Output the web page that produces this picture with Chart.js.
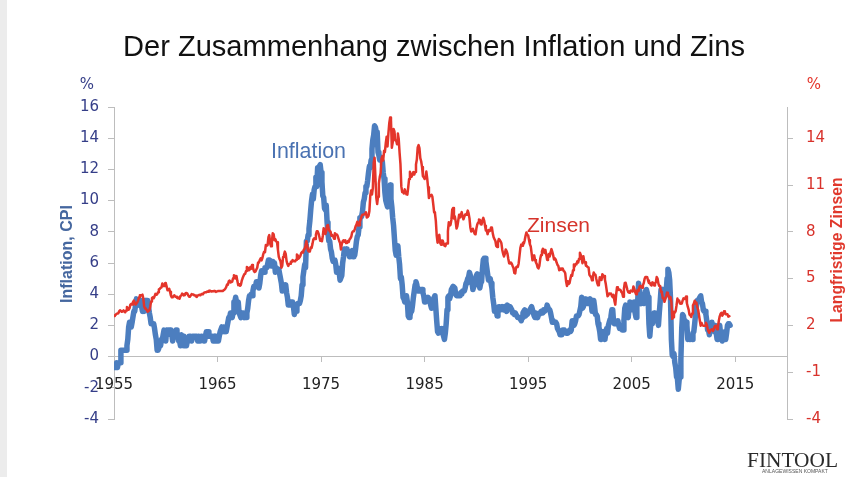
<!DOCTYPE html>
<html><head><meta charset="utf-8">
<script src="https://cdn.jsdelivr.net/npm/chart.js@4.4.1/dist/chart.umd.min.js"></script>
<style>html,body{margin:0;padding:0;background:#fff;overflow:hidden}#wrap{position:relative;width:854px;height:477px}</style>
</head><body><div id="wrap"><canvas id="c" width="854" height="477"></canvas></div>
<script>
// Monthly series starting January 1955
const startYear = 1955;
const inflation = [
-0.7,-0.7,-0.7,-0.4,-0.7,-0.4,-0.4,-0.4,0.4,0.4,0.4,0.4,
0.4,0.4,0.4,0.7,1.1,1.9,2.2,1.9,1.9,2.2,2.2,2.9,
2.9,3.3,3.7,3.6,3.6,3.3,3.3,3.6,3.2,2.9,3.2,2.9,
3.6,3.2,3.6,3.6,3.2,2.8,2.5,2.1,2.1,2.1,2.1,1.8,
1.4,1.1,0.4,0.4,0.4,0.7,0.7,1.1,1.1,1.4,1.7,1.7,
1.0,1.7,1.4,1.7,1.7,1.7,1.4,1.4,1.0,1.4,1.4,1.4,
1.7,1.4,1.4,1.0,1.0,0.7,1.4,1.0,1.3,0.7,0.7,0.7,
0.7,1.0,1.0,1.3,1.3,1.3,1.0,1.3,1.3,1.3,1.3,1.3,
1.3,1.0,1.3,1.0,1.0,1.3,1.3,1.3,1.0,1.0,1.3,1.6,
1.6,1.6,1.3,1.3,1.3,1.3,1.3,1.0,1.3,1.0,1.3,1.0,
1.0,1.0,1.3,1.6,1.6,1.9,1.6,1.9,1.6,1.9,1.6,1.9,
1.9,2.5,2.5,2.8,2.8,2.5,2.8,3.5,3.5,3.8,3.5,3.5,
3.5,2.8,2.8,2.5,2.8,2.8,2.8,2.5,2.8,2.5,2.8,3.1,
3.6,3.9,3.9,4.0,3.9,4.2,4.5,4.5,4.5,4.8,4.8,4.7,
4.4,4.7,5.2,5.5,5.5,5.5,5.4,5.7,5.7,5.7,5.9,6.2,
6.2,6.1,5.8,6.1,6.1,6.0,6.0,5.4,5.7,5.6,5.6,5.6,
5.3,5.0,4.7,4.2,4.4,4.6,4.4,4.6,4.1,3.8,3.3,3.3,
3.3,3.5,3.5,3.5,3.2,2.7,2.9,2.9,3.2,3.4,3.4,3.4,
3.6,3.9,4.6,5.1,5.5,5.9,5.7,7.4,7.4,7.8,8.2,8.7,
9.4,10.0,10.4,10.1,10.7,10.9,11.5,10.9,12.1,12.0,12.2,12.3,
11.8,11.2,10.3,10.2,9.5,9.4,9.7,8.6,7.9,7.4,7.4,6.9,
6.7,6.3,6.1,6.1,6.2,5.9,5.4,5.7,5.4,5.4,4.9,4.9,
5.2,6.0,6.4,6.9,6.7,6.9,6.8,6.6,6.6,6.4,6.7,6.7,
6.8,6.4,6.6,6.5,6.9,7.4,7.7,7.8,8.3,8.9,8.9,9.0,
9.3,9.9,10.1,10.5,10.9,10.9,11.3,11.8,12.2,12.1,12.6,13.3,
13.9,14.2,14.8,14.7,14.4,14.4,13.1,12.9,12.6,12.8,12.6,12.5,
11.8,11.4,10.5,10.0,9.8,9.6,10.8,10.8,11.0,10.1,9.6,8.9,
8.4,7.6,6.8,6.5,6.7,7.1,6.4,5.9,5.0,5.1,4.6,3.8,
3.7,3.5,3.6,3.9,3.5,2.6,2.5,2.6,2.9,2.9,3.3,3.8,
4.2,4.6,4.8,4.6,4.2,4.2,4.2,4.3,4.3,4.3,4.1,3.9,
3.5,3.5,3.7,3.7,3.8,3.8,3.6,3.3,3.1,3.2,3.5,3.8,
3.9,3.1,2.3,1.6,1.5,1.8,1.6,1.6,1.8,1.5,1.3,1.1,
1.5,2.1,3.0,3.8,3.9,3.7,3.9,4.3,4.4,4.5,4.5,4.4,
4.0,3.9,3.9,3.9,3.9,4.0,4.1,4.0,4.2,4.2,4.2,4.4,
4.7,4.8,5.0,5.1,5.4,5.2,5.0,4.7,4.3,4.5,4.7,4.6,
5.2,5.3,5.2,4.7,4.4,4.7,4.8,5.6,6.2,6.3,6.3,6.1,
5.7,5.3,4.9,4.9,5.0,4.7,4.4,3.8,3.4,2.9,3.0,3.1,
2.6,2.8,3.2,3.2,3.0,3.1,3.2,3.1,3.0,3.2,3.0,2.9,
3.3,3.2,3.1,3.2,3.2,3.0,2.8,2.8,2.7,2.8,2.7,2.7,
2.5,2.5,2.5,2.4,2.3,2.5,2.8,2.9,3.0,2.6,2.7,2.7,
2.8,2.9,2.9,3.1,3.2,3.0,2.8,2.6,2.5,2.8,2.6,2.5,
2.7,2.7,2.8,2.9,2.9,2.8,3.0,2.9,3.0,3.0,3.3,3.3,
3.0,3.0,2.8,2.5,2.2,2.3,2.2,2.2,2.2,2.1,1.8,1.7,
1.6,1.4,1.4,1.4,1.7,1.7,1.7,1.6,1.5,1.5,1.5,1.6,
1.7,1.6,1.7,2.3,2.1,2.0,2.1,2.3,2.6,2.6,2.6,2.7,
2.7,3.2,3.8,3.1,3.2,3.7,3.7,3.4,3.5,3.4,3.4,3.4,
3.7,3.5,2.9,3.3,3.6,3.2,2.7,2.7,2.6,2.1,1.9,1.6,
1.1,1.1,1.5,1.6,1.2,1.1,1.5,1.8,1.5,2.0,2.2,2.4,
2.6,3.0,3.0,2.2,2.1,2.1,2.1,2.2,2.3,2.0,1.8,1.9,
1.9,1.7,1.7,2.3,3.1,3.3,3.0,2.7,2.5,3.2,3.5,3.3,
3.0,3.0,3.1,3.5,2.8,2.5,3.2,3.6,4.7,4.3,3.5,3.4,
4.0,3.6,3.4,3.5,4.2,4.3,4.1,3.8,2.1,1.3,2.0,2.5,
2.1,2.4,2.8,2.6,2.7,2.7,2.4,2.0,2.8,3.5,4.3,4.1,
4.3,4.0,4.0,3.9,4.2,5.0,5.6,5.4,4.9,3.7,1.1,0.1,
0.0,0.2,-0.4,-0.7,-1.3,-1.4,-2.1,-1.5,-1.3,-0.2,1.8,2.7,
2.6,2.1,2.3,2.2,2.0,1.1,1.2,1.1,1.1,1.2,1.1,1.5,
1.6,2.1,2.7,3.2,3.6,3.6,3.6,3.8,3.9,3.5,3.4,3.0,
2.9,2.9,2.7,2.3,1.7,1.7,1.4,1.7,2.0,2.2,1.8,1.7,
1.6,2.0,1.5,1.1,1.4,1.8,2.0,1.5,1.2,1.0,1.2,1.5,
1.6,1.1,1.5,2.0,2.1,2.1,2.0
];
const zinsen = [
2.61,2.65,2.68,2.75,2.76,2.78,2.90,2.97,2.97,2.88,2.89,2.96,
2.90,2.84,2.96,3.18,3.07,3.00,3.11,3.33,3.38,3.34,3.49,3.59,
3.46,3.34,3.41,3.48,3.60,3.80,3.93,3.93,3.92,3.97,3.72,3.21,
3.09,3.05,2.98,2.88,2.92,2.97,3.20,3.54,3.76,3.80,3.74,3.86,
4.02,3.96,3.99,4.12,4.31,4.34,4.40,4.43,4.68,4.53,4.53,4.69,
4.72,4.49,4.25,4.28,4.35,4.15,3.90,3.80,3.80,3.89,3.93,3.84,
3.84,3.78,3.74,3.78,3.71,3.88,3.92,4.04,3.98,3.92,3.94,4.06,
4.08,4.04,3.93,3.84,3.87,3.91,4.01,3.98,3.98,3.93,3.92,3.86,
3.83,3.92,3.93,3.97,3.93,3.99,4.02,4.00,4.08,4.11,4.12,4.13,
4.17,4.15,4.22,4.23,4.20,4.17,4.19,4.19,4.20,4.19,4.15,4.18,
4.19,4.21,4.21,4.20,4.21,4.21,4.20,4.25,4.29,4.35,4.45,4.62,
4.61,4.83,4.87,4.75,4.78,4.81,5.02,5.22,5.18,5.01,5.16,4.84,
4.58,4.63,4.54,4.59,4.85,5.02,5.16,5.28,5.30,5.48,5.75,5.70,
5.53,5.56,5.74,5.64,5.87,5.72,5.50,5.42,5.46,5.58,5.70,6.03,
6.04,6.19,6.30,6.17,6.32,6.57,6.72,6.69,7.16,7.10,7.14,7.65,
7.79,7.24,7.07,7.39,7.91,7.84,7.46,7.53,7.39,7.33,6.84,6.39,
6.24,6.11,5.70,5.83,6.39,6.52,6.73,6.58,6.14,5.93,5.81,5.93,
5.95,6.08,6.07,6.19,6.13,6.11,6.11,6.21,6.55,6.48,6.28,6.36,
6.46,6.64,6.71,6.67,6.85,6.90,7.13,7.40,7.09,6.79,6.73,6.74,
6.99,6.96,7.21,7.51,7.58,7.54,7.81,8.04,8.04,7.90,7.68,7.43,
7.50,7.39,7.73,8.23,8.06,7.86,8.06,8.40,8.43,8.14,8.05,8.00,
7.74,7.79,7.73,7.56,7.90,7.86,7.83,7.77,7.59,7.41,7.29,6.87,
7.21,7.39,7.46,7.37,7.46,7.28,7.33,7.40,7.34,7.52,7.58,7.69,
7.96,8.03,8.04,8.15,8.35,8.46,8.64,8.41,8.42,8.64,8.81,9.01,
9.10,9.10,9.12,9.18,9.25,8.91,8.95,9.03,9.33,10.30,10.65,10.39,
10.80,12.41,12.75,11.47,10.18,9.78,10.25,11.10,11.51,11.75,12.68,12.84,
12.57,13.19,13.12,13.68,14.10,13.47,14.28,14.94,15.32,15.15,13.39,13.72,
14.59,14.43,13.86,13.87,13.62,14.30,13.95,13.06,12.34,10.91,10.55,10.54,
10.46,10.72,10.51,10.40,10.38,10.85,11.38,11.85,11.65,11.54,11.69,11.83,
11.67,11.84,12.32,12.63,13.41,13.56,13.36,12.72,12.52,12.16,11.57,11.50,
11.38,11.51,11.86,11.43,10.85,10.16,10.31,10.33,10.37,10.24,9.78,9.26,
9.19,8.70,7.78,7.30,7.71,7.80,7.30,7.17,7.45,7.43,7.25,7.11,
7.08,7.25,7.25,8.02,8.61,8.40,8.45,8.76,9.42,9.52,8.86,8.99,
8.67,8.21,8.37,8.72,9.09,8.92,9.06,9.26,8.98,8.80,8.96,9.11,
9.09,9.17,9.36,9.18,8.86,8.28,8.02,8.11,8.19,8.01,7.87,7.84,
8.21,8.47,8.59,8.79,8.76,8.48,8.47,8.75,8.89,8.72,8.39,8.08,
8.09,7.85,8.11,8.04,8.07,8.28,8.27,7.90,7.65,7.53,7.42,7.09,
7.03,7.34,7.54,7.48,7.39,7.26,6.84,6.59,6.42,6.59,6.87,6.77,
6.60,6.26,5.98,5.97,6.04,5.96,5.81,5.68,5.36,5.33,5.72,5.77,
5.75,5.97,6.48,6.97,7.18,7.10,7.30,7.24,7.46,7.74,7.96,7.81,
7.78,7.47,7.20,7.06,6.63,6.17,6.28,6.49,6.20,6.04,5.93,5.71,
5.65,5.81,6.27,6.51,6.74,6.91,6.87,6.64,6.83,6.53,6.20,6.30,
6.58,6.42,6.69,6.89,6.71,6.49,6.22,6.30,6.21,6.03,5.88,5.81,
5.54,5.57,5.65,5.64,5.65,5.50,5.46,5.34,4.81,4.53,4.83,4.65,
4.72,5.00,5.23,5.18,5.54,5.90,5.79,5.94,5.92,6.11,6.03,6.28,
6.66,6.52,6.26,5.99,6.44,6.10,6.05,5.83,5.80,5.74,5.72,5.24,
5.16,5.10,4.89,5.14,5.39,5.28,5.24,4.97,4.73,4.57,4.65,5.09,
5.04,4.91,5.28,5.21,5.16,4.93,4.65,4.26,3.87,3.94,4.05,4.03,
4.05,3.90,3.81,3.96,3.57,3.33,3.98,4.45,4.27,4.29,4.30,4.27,
4.15,4.08,3.83,4.35,4.72,4.73,4.50,4.28,4.13,4.10,4.19,4.23,
4.22,4.17,4.50,4.34,4.14,4.00,4.18,4.26,4.20,4.46,4.54,4.47,
4.42,4.57,4.72,4.99,5.11,5.11,5.09,4.88,4.72,4.73,4.60,4.56,
4.76,4.72,4.56,4.69,4.75,5.10,5.00,4.67,4.52,4.53,4.15,4.10,
3.74,3.74,3.51,3.68,3.88,4.10,4.01,3.89,3.69,3.81,3.53,2.42,
2.52,2.87,2.82,2.93,3.29,3.72,3.56,3.59,3.40,3.39,3.40,3.59,
3.73,3.69,3.73,3.85,3.42,3.20,3.01,2.70,2.65,2.54,2.76,3.29,
3.39,3.58,3.41,3.46,3.17,3.00,3.00,2.30,1.98,2.15,2.01,1.98,
1.97,1.97,2.17,2.05,1.80,1.62,1.53,1.68,1.72,1.75,1.65,1.72,
1.91,1.98,1.96,1.76,1.93,2.30,2.58,2.74,2.81,2.62,2.72,2.90,
2.86,2.71,2.72,2.71,2.56,2.60,2.54
];
const xTicks = [1955, 1965, 1975, 1985, 1995, 2005, 2015];
const leftTicks = [-4, -2, 0, 2, 4, 6, 8, 10, 12, 14, 16];
const rightTicks = [-4, -1, 2, 5, 8, 11, 14];
const titleText = 'Der Zusammenhang zwischen Inflation und Zins';
const leftAxisTitle = 'Inflation, CPI';
const rightAxisTitle = 'Langfristige Zinsen';
const seriesLabels = ['Inflation', 'Zinsen'];

const monthX = i => startYear + i / 12;
const blueData = inflation.map((v, i) => ({x: monthX(i), y: v}));
const redData = zinsen.map((v, i) => ({x: monthX(i), y: v}));

const BLUE = '#4c7ebf', RED = '#e4352b', NAVY = '#353e88', AXIS = '#bdbdbd';

function fitText(ctx, text, font, weight, target) {
  ctx.font = weight + ' 100px ' + font;
  const w = ctx.measureText(text).width;
  const size = 100 * target / w;
  ctx.font = weight + ' ' + size.toFixed(2) + 'px ' + font;
  return size;
}

const textPlugin = {
  id: 'texts',
  beforeDraw(chart) {
    const ctx = chart.ctx;
    ctx.save();
    ctx.fillStyle = '#ececec';
    ctx.fillRect(0, 0, 7, chart.height);
    ctx.restore();
  },
  afterDraw(chart) {
    const ctx = chart.ctx;
    ctx.save();
    ctx.textBaseline = 'alphabetic';
    // title
    ctx.fillStyle = '#111';
    ctx.textAlign = 'left';
    fitText(ctx, titleText, '"Liberation Sans", Arial, sans-serif', 'normal', 622);
    ctx.fillText(titleText, 123, 56);
    // percent signs
    ctx.font = '15px "DejaVu Sans"';
    ctx.textAlign = 'center';
    ctx.fillStyle = NAVY;
    ctx.fillText('%', 87, 89);
    ctx.fillStyle = RED;
    ctx.fillText('%', 814, 89);
    // series annotations
    ctx.textAlign = 'left';
    ctx.fillStyle = '#4a72b2';
    fitText(ctx, seriesLabels[0], '"Liberation Sans", Arial, sans-serif', 'normal', 75);
    ctx.fillText(seriesLabels[0], 271, 158);
    ctx.fillStyle = '#d6342b';
    fitText(ctx, seriesLabels[1], '"Liberation Sans", Arial, sans-serif', 'normal', 63);
    ctx.fillText(seriesLabels[1], 527, 232);
    // axis titles (rotated, reading bottom to top)
    ctx.textAlign = 'center';
    ctx.save();
    ctx.translate(72, 254);
    ctx.rotate(-Math.PI / 2);
    ctx.fillStyle = '#45679f';
    fitText(ctx, leftAxisTitle, '"Liberation Sans", Arial, sans-serif', 'bold', 98);
    ctx.fillText(leftAxisTitle, 0, 0);
    ctx.restore();
    ctx.save();
    ctx.translate(842, 250);
    ctx.rotate(-Math.PI / 2);
    ctx.fillStyle = '#e0382c';
    fitText(ctx, rightAxisTitle, '"Liberation Sans", Arial, sans-serif', 'bold', 145);
    ctx.fillText(rightAxisTitle, 0, 0);
    ctx.restore();
    // logo
    ctx.textAlign = 'left';
    ctx.fillStyle = '#2a2a2a';
    fitText(ctx, 'FINTOOL', '"Liberation Serif", serif', 'normal', 91);
    ctx.fillText('FINTOOL', 747, 467);
    ctx.fillStyle = '#555';
    fitText(ctx, 'ANLAGEWISSEN KOMPAKT', '"Liberation Sans", sans-serif', 'normal', 66);
    ctx.fillText('ANLAGEWISSEN KOMPAKT', 762, 473);
    ctx.restore();
  }
};

Chart.defaults.font.family = '"DejaVu Sans", sans-serif';

new Chart(document.getElementById('c'), {
  type: 'line',
  data: {
    datasets: [
      {label: seriesLabels[0], data: blueData, borderColor: BLUE, borderWidth: 5.5,
       pointRadius: 0, tension: 0, fill: false, yAxisID: 'y', order: 1,
       borderJoinStyle: 'round', borderCapStyle: 'round'},
      {label: seriesLabels[1], data: redData, borderColor: RED, borderWidth: 2.5,
       pointRadius: 0, tension: 0, fill: false, yAxisID: 'y2', order: 0,
       borderJoinStyle: 'round'}
    ]
  },
  options: {
    responsive: false,
    animation: false,
    devicePixelRatio: 1,
    layout: {padding: {left: 0, right: 0, top: 107, bottom: 58}},
    plugins: {legend: {display: false}, tooltip: {enabled: false}, title: {display: false}},
    scales: {
      x: {
        type: 'linear', min: 1955, max: 2020,
        position: {y: 0},
        afterBuildTicks: s => { s.ticks = xTicks.map(v => ({value: v})); },
        ticks: {color: '#222', font: {size: 15}, padding: 15, maxRotation: 0,
                autoSkip: false, callback: v => String(v)},
        grid: {drawOnChartArea: false, drawTicks: true, tickLength: 5, color: AXIS},
        border: {color: AXIS, width: 1}
      },
      y: {
        type: 'linear', position: 'left', min: -4, max: 16,
        afterBuildTicks: s => { s.ticks = leftTicks.map(v => ({value: v})); },
        afterFit: s => { s.width = 114; },
        ticks: {color: NAVY, font: {size: 15}, padding: 9, callback: v => String(v)},
        grid: {drawOnChartArea: false, drawTicks: true, tickLength: 6, color: AXIS},
        border: {color: AXIS, width: 1}
      },
      y2: {
        type: 'linear', position: 'right', min: -4, max: 16,
        afterBuildTicks: s => { s.ticks = rightTicks.map(v => ({value: v})); },
        afterFit: s => { s.width = 67; },
        ticks: {color: '#d8322b', font: {size: 15}, padding: 13, callback: v => String(v)},
        grid: {drawOnChartArea: false, drawTicks: true, tickLength: 6, color: AXIS},
        border: {color: AXIS, width: 1}
      }
    }
  },
  plugins: [textPlugin]
});
</script>
</body></html>
